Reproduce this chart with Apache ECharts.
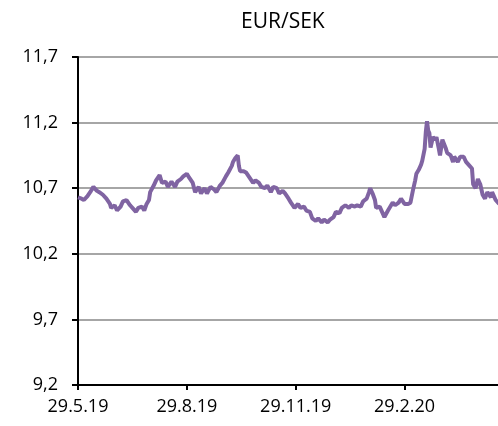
<!DOCTYPE html>
<html>
<head>
<meta charset="utf-8">
<script src="https://cdn.jsdelivr.net/npm/echarts@6/dist/echarts.min.js"></script>
<style>
  html, body { margin: 0; padding: 0; background: #fff; }
  #chart { width: 498px; height: 426px; }
</style>
</head>
<body>
<div id="chart"></div>
<script>
// EUR/SEK
const dates = [
  '2019-05-29','2019-06-01','2019-06-03','2019-06-06','2019-06-09','2019-06-11','2019-06-14','2019-06-16',
  '2019-06-19','2019-06-22','2019-06-25','2019-06-26','2019-06-29','2019-07-01','2019-07-04','2019-07-06',
  '2019-07-09','2019-07-12','2019-07-14','2019-07-17','2019-07-19','2019-07-22','2019-07-24','2019-07-26',
  '2019-07-28','2019-07-29','2019-08-01','2019-08-03','2019-08-06','2019-08-08','2019-08-11','2019-08-13',
  '2019-08-16','2019-08-19','2019-08-21','2019-08-24','2019-08-26','2019-08-29','2019-08-31','2019-09-03',
  '2019-09-05','2019-09-08','2019-09-10','2019-09-13','2019-09-15','2019-09-18','2019-09-21','2019-09-23',
  '2019-09-26','2019-09-28','2019-10-01','2019-10-03','2019-10-06','2019-10-07','2019-10-09','2019-10-11',
  '2019-10-12','2019-10-13','2019-10-16','2019-10-18','2019-10-21','2019-10-24','2019-10-26','2019-10-29',
  '2019-10-31','2019-11-03','2019-11-05','2019-11-08','2019-11-10','2019-11-13','2019-11-15','2019-11-18',
  '2019-11-20','2019-11-23','2019-11-25','2019-11-28','2019-12-01','2019-12-03','2019-12-06','2019-12-08',
  '2019-12-11','2019-12-13','2019-12-16','2019-12-18','2019-12-21','2019-12-23','2019-12-26','2019-12-28',
  '2019-12-31','2020-01-02','2020-01-05','2020-01-07','2020-01-10','2020-01-13','2020-01-15','2020-01-18',
  '2020-01-20','2020-01-23','2020-01-25','2020-01-28','2020-01-30','2020-01-31','2020-02-02','2020-02-04',
  '2020-02-05','2020-02-08','2020-02-10','2020-02-12','2020-02-15','2020-02-17','2020-02-19','2020-02-21',
  '2020-02-24','2020-02-26','2020-02-29','2020-03-03','2020-03-05','2020-03-07','2020-03-09','2020-03-10',
  '2020-03-12','2020-03-14','2020-03-15','2020-03-17','2020-03-18','2020-03-19','2020-03-20','2020-03-21',
  '2020-03-22','2020-03-24','2020-03-26','2020-03-27','2020-03-29','2020-03-30','2020-04-01','2020-04-04',
  '2020-04-05','2020-04-08','2020-04-10','2020-04-11','2020-04-14','2020-04-16','2020-04-19','2020-04-21',
  '2020-04-22','2020-04-24','2020-04-26','2020-04-27','2020-04-29','2020-05-01','2020-05-03','2020-05-05',
  '2020-05-07','2020-05-09','2020-05-12','2020-05-13','2020-05-16','2020-05-19'
];
const eurSek = [
  10.63,10.62,10.61,10.64,10.68,10.71,10.68,10.67,
  10.65,10.62,10.58,10.55,10.57,10.53,10.56,10.60,
  10.61,10.57,10.55,10.52,10.55,10.56,10.53,10.58,
  10.61,10.67,10.72,10.76,10.80,10.74,10.75,10.71,
  10.75,10.71,10.75,10.77,10.79,10.81,10.78,10.74,
  10.67,10.71,10.66,10.70,10.66,10.71,10.69,10.67,
  10.72,10.74,10.79,10.82,10.87,10.90,10.93,10.95,
  10.87,10.83,10.83,10.82,10.78,10.74,10.76,10.74,
  10.71,10.70,10.72,10.67,10.71,10.70,10.66,10.68,
  10.66,10.62,10.59,10.55,10.58,10.55,10.56,10.53,
  10.52,10.47,10.45,10.47,10.44,10.46,10.44,10.46,
  10.48,10.52,10.51,10.55,10.57,10.55,10.57,10.56,
  10.57,10.56,10.60,10.62,10.67,10.70,10.66,10.61,
  10.55,10.56,10.52,10.48,10.53,10.56,10.59,10.57,
  10.59,10.62,10.58,10.58,10.59,10.68,10.76,10.81,
  10.84,10.88,10.91,11.00,11.13,11.21,11.14,11.12,
  11.01,11.09,11.07,11.09,11.00,10.95,11.07,11.00,
  10.97,10.95,10.90,10.94,10.90,10.94,10.94,10.90,
  10.90,10.87,10.85,10.73,10.70,10.77,10.73,10.65,
  10.62,10.67,10.63,10.67,10.61,10.58
];
const startDate = '2019-05-29';
const endDate = '2020-05-18';   // the picture is cut off here
const yTicks = { min: 9.2, max: 11.7, step: 0.5 };

const DAY = 86400000;
const toDay = s => Math.round((Date.parse(s) - Date.parse(startDate)) / DAY);
const seriesData = dates.map((d, i) => [toDay(d), eurSek[i]]);

function dayLabel(v) {
    const d = new Date(Date.parse(startDate) + v * DAY);
    return d.getUTCDate() + '.' + (d.getUTCMonth() + 1) + '.' + String(d.getUTCFullYear()).slice(2);
}

const chart = echarts.init(document.getElementById('chart'));
chart.setOption({
    animation: false,
    title: {
        text: 'EUR/SEK',
        left: 236,
        top: 7,
        textStyle: { fontFamily: 'Open Sans', fontSize: 21, fontWeight: 'normal', color: '#000' }
    },
    grid: { left: 78, top: 57, right: 0, bottom: 41, containLabel: false },
    xAxis: {
        type: 'value',
        min: 0,
        max: toDay(endDate),
        interval: 92,
        axisLine: { lineStyle: { color: '#000', width: 2 } },
        axisTick: { length: 5, lineStyle: { color: '#000', width: 2 } },
        axisLabel: {
            formatter: dayLabel,
            showMaxLabel: false,
            margin: 13,
            fontFamily: 'Open Sans',
            fontSize: 18,
            color: '#000'
        },
        splitLine: { show: false }
    },
    yAxis: {
        type: 'value',
        min: yTicks.min,
        max: yTicks.max,
        interval: yTicks.step,
        axisLine: { show: true, lineStyle: { color: '#000', width: 2 } },
        axisTick: { show: true, length: 6, lineStyle: { color: '#000', width: 2 } },
        axisLabel: {
            formatter: v => v.toFixed(1).replace('.', ','),
            margin: 20,
            fontFamily: 'Open Sans',
            fontSize: 18,
            color: '#000'
        },
        splitLine: { lineStyle: { color: '#a6a6a6', width: 2 } }
    },
    series: [{
        name: 'EUR/SEK',
        type: 'line',
        data: seriesData,
        showSymbol: false,
        lineStyle: { color: '#8064a2', width: 4 },
        itemStyle: { color: '#8064a2' }
    }]
});
</script>
</body>
</html>
